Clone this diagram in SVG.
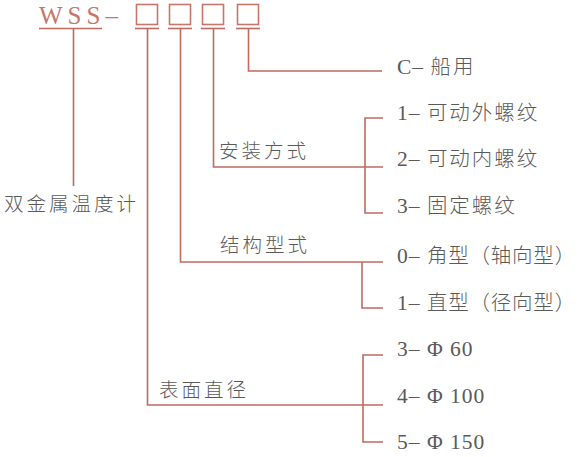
<svg xmlns="http://www.w3.org/2000/svg" width="581" height="457" viewBox="0 0 581 457">
<style>
.ln{fill:none;stroke:#c06a60;stroke-width:1.6}
.bx{fill:none;stroke:#c8756b;stroke-width:1.6}
.t{font-family:"Liberation Serif","Noto Sans CJK SC",serif;font-size:21.5px;fill:#5a5a5a;letter-spacing:1px}
.t tspan{font-family:"Noto Sans CJK SC",sans-serif;font-weight:300;font-size:20.5px;letter-spacing:2px}
.t tspan.p{letter-spacing:0.8px}
.lb{font-family:"Noto Sans CJK SC",sans-serif;font-size:19.5px;fill:#5a5a5a;letter-spacing:3px;font-weight:300}
.ti{font-family:"Liberation Serif",serif;font-size:25px;fill:#c8756b;letter-spacing:5px}
</style>
<rect width="581" height="457" fill="#fff"/>
<g id="title">
<text class="ti" x="39" y="24">WSS–</text>
<line class="ln" x1="39" y1="28.5" x2="102" y2="28.5"/>
</g>
<g id="box1"><rect class="bx" x="136.5" y="4.5" width="21" height="20"/><line class="ln" x1="135" y1="28.5" x2="159" y2="28.5"/></g>
<g id="box2"><rect class="bx" x="169.5" y="4.5" width="21" height="20"/><line class="ln" x1="168" y1="28.5" x2="192" y2="28.5"/></g>
<g id="box3"><rect class="bx" x="202.5" y="4.5" width="21" height="20"/><line class="ln" x1="201" y1="28.5" x2="225" y2="28.5"/></g>
<g id="box4"><rect class="bx" x="237.5" y="4.5" width="21" height="20"/><line class="ln" x1="236" y1="28.5" x2="260" y2="28.5"/></g>
<g id="connectors">
<polyline class="ln" points="73.5,28.5 73.5,186"/>
<polyline class="ln" points="147.5,28.5 147.5,405 383,405"/>
<polyline class="ln" points="180.5,28.5 180.5,262 383,262"/>
<polyline class="ln" points="213.5,28.5 213.5,167 383,167"/>
<polyline class="ln" points="248.5,28.5 248.5,71 382,71"/>
<polyline class="ln" points="383,118 365,118 365,213 383,213"/>
<polyline class="ln" points="362,262 362,308 383,308"/>
<polyline class="ln" points="383,355 363,355 363,442 383,442"/>
</g>
<g id="n-name"><text class="lb" x="4" y="211">双金属温度计</text></g>
<g id="n-install"><text class="lb" x="219" y="158">安装方式</text></g>
<g id="n-struct"><text class="lb" x="220" y="252">结构型式</text></g>
<g id="n-dia"><text class="lb" x="159" y="397">表面直径</text></g>
<g id="o-c"><text class="t" x="397" y="74">C– <tspan>船用</tspan></text></g>
<g id="o-1"><text class="t" x="397" y="120">1– <tspan>可动外螺纹</tspan></text></g>
<g id="o-2"><text class="t" x="397" y="166">2– <tspan>可动内螺纹</tspan></text></g>
<g id="o-3"><text class="t" x="397" y="213">3– <tspan>固定螺纹</tspan></text></g>
<g id="o-0"><text class="t" x="397" y="263">0– <tspan class="p">角型（轴向型）</tspan></text></g>
<g id="o-1b"><text class="t" x="397" y="310">1– <tspan class="p">直型（径向型）</tspan></text></g>
<g id="o-60"><text class="t" x="397" y="356">3– Φ 60</text></g>
<g id="o-100"><text class="t" x="397" y="403">4– Φ 100</text></g>
<g id="o-150"><text class="t" x="397" y="449">5– Φ 150</text></g>
</svg>
